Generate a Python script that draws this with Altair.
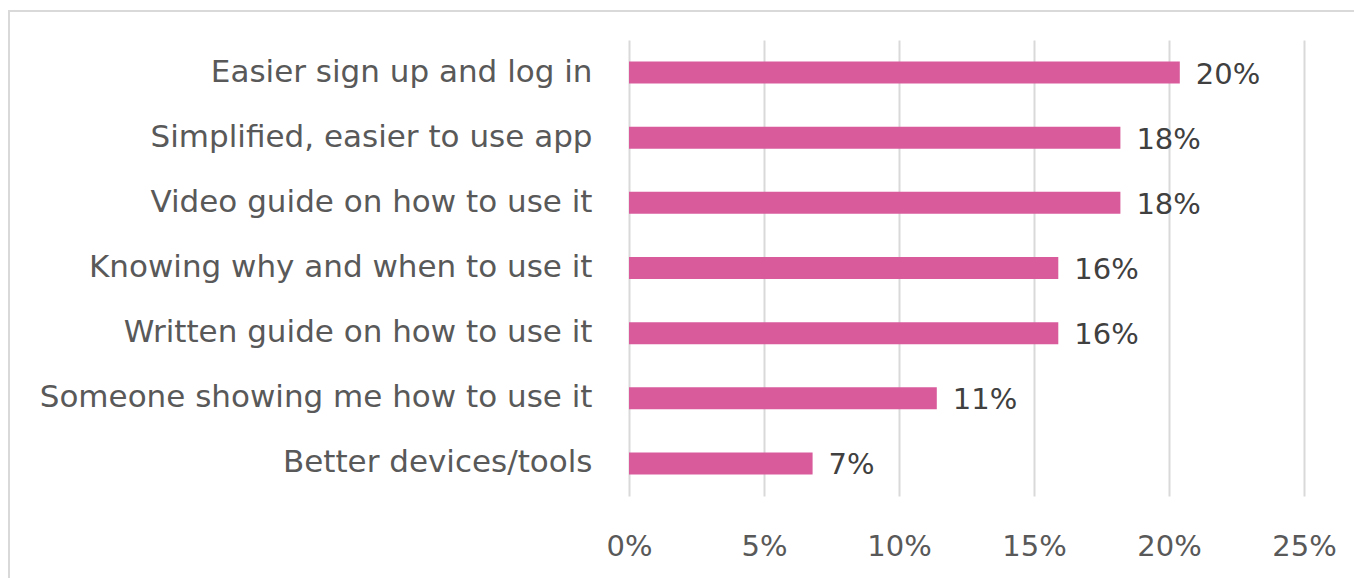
import altair as alt
import pandas as pd

categories = [
    "Easier sign up and log in",
    "Simplified, easier to use app",
    "Video guide on how to use it",
    "Knowing why and when to use it",
    "Written guide on how to use it",
    "Someone showing me how to use it",
    "Better devices/tools",
]
values = [0.204, 0.182, 0.182, 0.159, 0.159, 0.114, 0.068]
x_ticks = [0, 0.05, 0.10, 0.15, 0.20, 0.25]

df = pd.DataFrame({"cat": categories, "val": values})

FONT = "DejaVu Sans"
PINK = "#d95b9c"

y_enc = alt.Y("cat:N", sort=categories, title=None,
              scale=alt.Scale(paddingInner=0.66, paddingOuter=0.33),
              axis=alt.Axis(domain=False, ticks=False, labelFontSize=31,
                            labelFont=FONT, labelColor="#595959",
                            labelPadding=37, labelLimit=700))
x_enc = alt.X("val:Q", title=None,
              scale=alt.Scale(domain=[0, 0.25], nice=False),
              axis=alt.Axis(values=x_ticks, format=".0%", domain=False, ticks=False,
                            grid=True, gridColor="#d9d9d9", gridWidth=2,
                            labelFlush=False,
                            labelFontSize=29, labelFont=FONT, labelColor="#595959",
                            labelPadding=36))

bars = alt.Chart(df).mark_bar(color=PINK, size=22).encode(x=x_enc, y=y_enc)
labels = alt.Chart(df).mark_text(align="left", baseline="middle", dx=16, dy=2,
                                 fontSize=29, font=FONT, color="#404040").encode(
    x="val:Q", y=alt.Y("cat:N", sort=categories),
    text=alt.Text("val:Q", format=".0%"))

border = alt.Chart(pd.DataFrame({"a": [0]})).mark_rect(
    fill=None, stroke="#d9d9d9", strokeWidth=2, clip=False).encode(
    x=alt.value(-620), x2=alt.value(780), y=alt.value(-29), y2=alt.value(600))

chart = alt.layer(border, bars, labels).properties(
    width=675, height=456,
    padding={"left": 629, "top": 40, "right": 50, "bottom": 82},
    autosize=alt.AutoSizeParams(type="none"),
    background="white",
).configure_view(stroke=None)

chart.save("out.html", embed_options={"renderer": "svg", "actions": False})
